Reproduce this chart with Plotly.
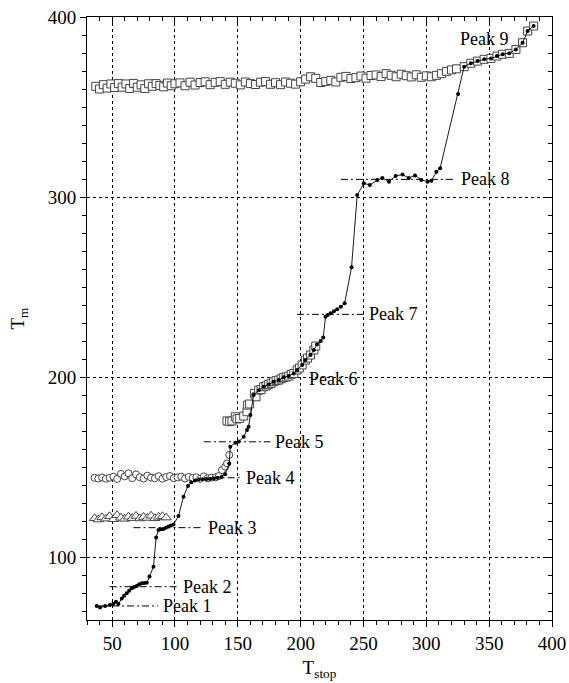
import plotly.graph_objects as go

# ---- data -------------------------------------------------------------
# upper square series (T_m vs T_stop)
sq_top_x = [37, 40, 43, 46, 49, 52, 55, 58, 61, 64, 67, 70, 73, 76, 79, 82,
            85, 88, 91, 94, 97, 100,
            104, 108, 112, 116, 120, 124, 128, 132, 136, 140, 144, 148, 152,
            156, 160, 164, 168, 172, 176, 180, 184, 188, 192, 196, 200,
            204, 208, 212, 216, 220,
            224, 228, 232, 236, 240, 244, 248, 252, 256,
            260, 264, 268, 272, 276, 280, 284, 288, 292, 296, 300, 304, 308,
            312, 316, 320, 324,
            330.1, 335.4, 340.7, 346.0, 351.4, 356.2, 360.7, 366.0, 371.3,
            376.6, 380.6, 385.4]
sq_top_y = [361.5, 360.0, 362.4, 360.5, 362.8, 360.8, 363.0, 361.0,
            362.8, 360.3, 363.1, 361.0, 362.3, 360.3, 362.9, 361.5,
            363.0, 362.0, 361.2, 363.3, 361.8, 362.9,
            363.4, 361.8, 363.8, 362.2, 363.6, 364.0, 362.4, 363.7, 364.1,
            362.6, 363.8, 363.2, 362.3, 363.9, 363.0, 362.5, 363.8, 364.1,
            362.6, 363.5, 362.4, 363.9, 363.2, 362.7, 364.0,
            365.5, 366.8, 365.9, 363.6, 364.2,
            364.8, 363.9, 366.5, 367.0, 365.8, 366.3, 367.2, 366.0, 367.5,
            367.8, 366.9, 368.5, 367.6, 366.8, 368.2, 367.4, 366.7, 367.9,
            366.5, 367.3, 366.8, 367.6, 368.5, 369.8, 370.6, 371.2,
            372.4, 374.3, 375.5, 376.5, 377.0, 378.3, 379.3, 379.8, 382.0,
            385.7, 392.2, 395.0]

# middle square series
sq_mid_x = [141.4, 143.5, 145.4, 148.0, 149.4, 151.5, 154.7, 157.3, 157.8,
            159.4, 163.2, 164.5, 166.6, 168.5, 170.6, 172.5, 174.6, 176.5,
            178.6, 180.5, 182.6, 184.5, 186.5, 188.5, 190.5, 192.5, 194.5,
            197.2, 199.0, 201.2, 203.8, 205.5, 207.8, 210.5, 212.0]
sq_mid_y = [175.6, 175.2, 175.6, 177.9, 176.7, 177.0, 178.3, 180.7, 184.4,
            185.0, 190.9, 189.0, 192.7, 193.0, 194.6, 195.0, 195.9, 196.5,
            197.4, 198.0, 198.3, 199.0, 199.8, 200.0, 200.5, 201.5, 202.0,
            203.9, 205.0, 206.7, 209.4, 210.5, 212.2, 215.0, 217.2]

# circle series
circ_x = [36, 39, 42, 45, 48, 51, 54, 57, 60, 63, 66, 69, 72, 75, 78, 81,
          84, 87, 90, 93, 96, 99, 102, 105, 108, 111, 114, 117, 120, 123,
          126, 129, 132.5, 135, 137.4, 140, 141.4, 143.2]
circ_y = [144.0, 143.6, 144.2, 143.5, 144.0, 144.6, 143.4, 146.2, 144.8,
          146.5, 143.8, 145.9, 144.3, 143.6, 145.2, 144.1, 143.7, 144.9,
          143.5, 144.4, 145.0, 143.8, 144.2, 144.6, 143.6, 144.5, 143.9,
          144.3, 143.4, 144.8, 143.7, 144.1, 144.3, 145.0, 148.3, 150.2,
          152.0, 156.7]

# triangle series
tri_x = [36, 39, 42, 45, 48, 51, 54, 57, 60, 63, 66, 69, 72, 75, 78, 81,
         84, 87, 90, 93]
tri_y = [121.5, 120.8, 122.0, 121.3, 122.6, 121.0, 123.2, 121.8, 121.2,
         122.4, 121.6, 122.8, 121.4, 122.2, 121.7, 122.9, 121.5, 122.3,
         122.6, 121.9]

# T_m curve (filled dots)
tm_x = [37.7, 40.4, 44.4, 48.3, 51.0, 53.1, 55.0, 57.7, 59.5, 61.6, 63.5,
        65.6, 67.5, 69.6, 71.5, 73.6, 75.5, 77.6, 79.7, 82.9, 85.0, 86.9,
        88.8, 90.8, 92.8, 94.8, 96.8, 98.8, 102.8, 106.8, 110.3, 113.0,
        116.0, 119.0, 122.0, 125.0, 128.0, 131.0, 134.0, 137.0, 140.0,
        143.2, 144.0, 148.0, 150.7, 154.7, 157.3, 158.6, 160.0, 162.6,
        166.6, 170.6, 174.6, 178.6, 182.6, 186.5, 190.5, 194.5, 197.2,
        201.2, 203.8, 207.8, 210.5, 213.0, 216.0, 218.0, 219.8, 221.5,
        223.8, 226.5, 229.1, 232.0, 235.0, 240.5, 245.0, 250.3, 255.1,
        261.0, 265.0, 270.3, 275.6, 281.0, 286.0, 291.0, 296.0, 301.0,
        304.0, 308.0, 311.0, 325.3, 330.1, 335.4, 340.7, 346.0, 351.4,
        356.2, 360.7, 366.0, 371.3, 376.6, 380.6, 385.4]
tm_y = [72.8, 71.9, 72.8, 73.3, 74.0, 75.2, 73.9, 77.0, 78.5, 79.8, 81.2,
        82.6, 83.4, 83.9, 84.8, 85.4, 85.6, 85.7, 89.1, 94.6, 110.9, 115.0,
        115.4, 115.6, 116.3, 117.0, 117.5, 118.0, 122.8, 133.5, 139.4, 141.5,
        142.5, 143.0, 143.2, 143.4, 143.5, 143.6, 144.0, 144.5, 146.0,
        152.0, 161.3, 163.5, 164.1, 166.8, 170.6, 172.4, 178.9, 190.0,
        192.7, 194.6, 195.9, 197.4, 198.3, 199.8, 200.5, 202.0, 203.9,
        206.7, 209.4, 212.2, 215.0, 218.0, 220.0, 222.0, 233.5, 234.5,
        235.4, 236.5, 237.6, 239.0, 241.0, 261.0, 301.1, 307.6, 306.7,
        309.4, 310.6, 308.5, 311.7, 312.5, 310.5, 312.0, 309.5, 308.5,
        309.0, 314.0, 316.0, 357.2, 372.4, 374.3, 375.5, 376.5, 377.0,
        378.3, 379.3, 379.8, 382.0, 385.7, 392.2, 395.0]

# peak markers: level, line start (None = label only), line end / label anchor
peak_names = ["Peak 1", "Peak 2", "Peak 3", "Peak 4", "Peak 5",
              "Peak 6", "Peak 7", "Peak 8", "Peak 9"]
peak_y = [72.8, 83.5, 116.3, 144.0, 164.0, 199.0, 234.8, 309.8, 387.6]
peak_x0 = [38, 48, 67, 118, 123, None, 197, 232, None]
peak_x1 = [86.6, 102.6, 122.5, 152.5, 176.0, 202.5, 250.3, 323.5, 323.0]

x_ticks = [50, 100, 150, 200, 250, 300, 350, 400]
y_ticks = [100, 200, 300, 400]

# ---- figure -----------------------------------------------------------
SERIF = "Liberation Serif"
EDGE = "#444444"

fig = go.Figure()

# dash-dot peak level lines (beneath the markers)
for name, y, x0, x1 in zip(peak_names, peak_y, peak_x0, peak_x1):
    if x0 is None:
        continue
    fig.add_trace(go.Scatter(
        x=[x0, x1], y=[y, y], mode="lines",
        line=dict(color="black", width=1, dash="7px,3px,2px,3px"),
        hoverinfo="skip", showlegend=False))

fig.add_trace(go.Scatter(
    x=tri_x, y=tri_y, mode="markers", showlegend=False,
    marker=dict(symbol="triangle-up", size=9, color="white",
                line=dict(color=EDGE, width=1))))

fig.add_trace(go.Scatter(
    x=circ_x, y=circ_y, mode="markers", showlegend=False,
    marker=dict(symbol="circle", size=7, color="white",
                line=dict(color=EDGE, width=1))))

fig.add_trace(go.Scatter(
    x=sq_top_x, y=sq_top_y, mode="markers", showlegend=False,
    marker=dict(symbol="square", size=8, color="white",
                line=dict(color=EDGE, width=1))))

fig.add_trace(go.Scatter(
    x=sq_mid_x, y=sq_mid_y, mode="markers", showlegend=False,
    marker=dict(symbol="square", size=8, color="white",
                line=dict(color=EDGE, width=1))))

fig.add_trace(go.Scatter(
    x=tm_x, y=tm_y, mode="lines+markers", showlegend=False,
    line=dict(color="black", width=0.9),
    marker=dict(symbol="circle", size=4, color="black")))

# invisible trace so the mirrored top/right axes are drawn
fig.add_trace(go.Scatter(x=[None], y=[None], xaxis="x2", yaxis="y2",
                         showlegend=False, hoverinfo="skip"))

for name, y, x1 in zip(peak_names, peak_y, peak_x1):
    fig.add_annotation(x=x1, y=y, text=name, showarrow=False,
                       xanchor="left", yanchor="middle", xshift=3,
                       font=dict(family=SERIF, size=18, color="black"))

axis_common = dict(showline=True, linecolor="black", linewidth=1,
                   zeroline=False, tickcolor="black", tickwidth=1,
                   tickfont=dict(family=SERIF, size=19, color="black"))

fig.update_layout(
    width=569, height=683,
    margin=dict(l=87, r=17, t=17, b=63, autoexpand=False),
    paper_bgcolor="white", plot_bgcolor="white",
    font=dict(family=SERIF, size=19, color="black"),
    xaxis=dict(range=[30, 400], tickvals=x_ticks, ticks="outside", ticklen=6,
               showgrid=True, gridcolor="black", gridwidth=1, griddash="dot",
               minor=dict(dtick=10, tick0=0, ticks="outside", ticklen=4,
                          tickcolor="black", showgrid=False),
               title=dict(text="T<sub>stop</sub>", standoff=7,
                          font=dict(family=SERIF, size=19)),
               **axis_common),
    yaxis=dict(range=[65, 400], tickvals=y_ticks, ticks="outside", ticklen=6,
               showgrid=True, gridcolor="black", gridwidth=1, griddash="dot",
               minor=dict(dtick=10, tick0=0, ticks="outside", ticklen=4,
                          tickcolor="black", showgrid=False),
               title=dict(text="T<sub>m</sub>", standoff=18,
                          font=dict(family=SERIF, size=19)),
               **axis_common),
    xaxis2=dict(range=[30, 400], overlaying="x", side="top",
                tickvals=x_ticks, ticks="inside", ticklen=6,
                showticklabels=False, showgrid=False,
                minor=dict(dtick=10, tick0=0, ticks="inside", ticklen=4,
                           tickcolor="black", showgrid=False),
                **axis_common),
    yaxis2=dict(range=[65, 400], overlaying="y", side="right",
                tickvals=y_ticks, ticks="inside", ticklen=6,
                showticklabels=False, showgrid=False,
                minor=dict(dtick=10, tick0=0, ticks="inside", ticklen=4,
                           tickcolor="black", showgrid=False),
                **axis_common),
)

fig.write_html("out.html")
